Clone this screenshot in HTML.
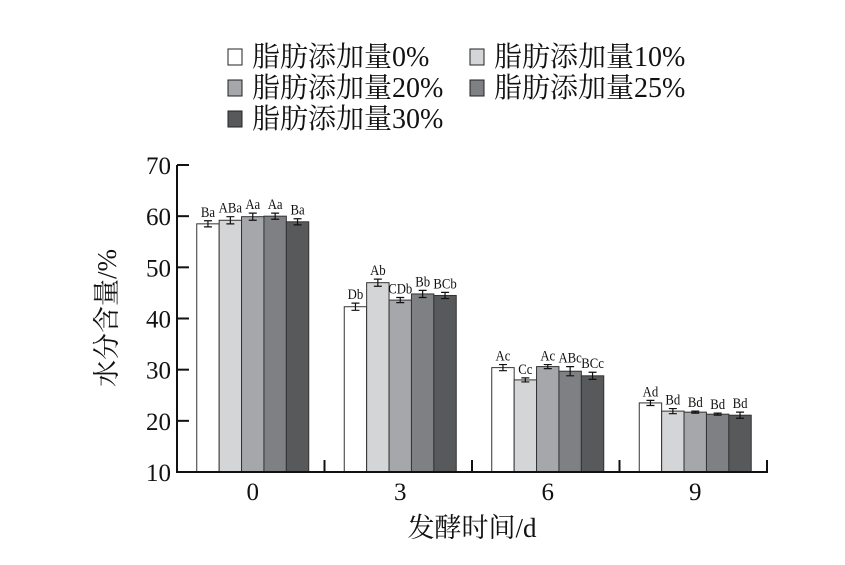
<!DOCTYPE html>
<html><head><meta charset="utf-8"><style>
body{margin:0;background:#fff}
svg text{font-family:"Liberation Serif","Noto Serif CJK SC",serif;fill:#111}
</style></head><body>
<svg width="845" height="560" viewBox="0 0 845 560" xmlns="http://www.w3.org/2000/svg">
<g id="legend"></g>
<g id="plot"></g>
<text x="116" y="318" font-size="27" text-anchor="middle" transform="rotate(-90 116 318)">水分含量/%</text>
<text x="472" y="537" font-size="27" text-anchor="middle">发酵时间/d</text>
</svg>
<script>
const categories=["0","3","6","9"];
const seriesNames=["脂肪添加量0%","脂肪添加量10%","脂肪添加量20%","脂肪添加量25%","脂肪添加量30%"];
const s0=[58.5,42.3,30.4,23.5];
const s10=[59.2,47.0,28.0,21.9];
const s20=[59.9,43.6,30.6,21.7];
const s25=[60.0,44.8,29.7,21.3];
const s30=[58.9,44.5,28.8,21.1];
const errs0=[0.6,0.7,0.6,0.5];
const errs10=[0.7,0.7,0.4,0.5];
const errs20=[0.7,0.5,0.4,0.2];
const errs25=[0.6,0.7,0.9,0.2];
const errs30=[0.6,0.6,0.7,0.6];
const sigLabels=[["Ba","Db","Ac","Ad"],["ABa","Ab","Cc","Bd"],["Aa","CDb","Ac","Bd"],["Aa","Bb","ABc","Bd"],["Ba","BCb","BCc","Bd"]];
const yTicks=[10,20,30,40,50,60,70];
const colors=["#ffffff","#d4d5d7","#a6a7aa","#7f8083","#58595b"];
const series=[s0,s10,s20,s25,s30];
const errs=[errs0,errs10,errs20,errs25,errs30];
const NS="http://www.w3.org/2000/svg";
const X0=177,X1=767,Y0=472,Y1=165,YMIN=10,YMAX=70;
const y=v=>Y0-(v-YMIN)/(YMAX-YMIN)*(Y0-Y1);
const catW=(X1-X0)/categories.length;
const bw=22.4;
const x=(ci,si)=>X0+catW*ci+catW/2+2+(si-2.5)*bw;
function mk(t,a,p){const e=document.createElementNS(NS,t);for(const k in a)e.setAttribute(k,a[k]);p.appendChild(e);return e;}
const plot=document.getElementById('plot');
series.forEach((s,si)=>{s.forEach((v,ci)=>{
 const r=mk('rect',{x:x(ci,si),y:y(v),width:bw,height:Y0-y(v),fill:colors[si],stroke:"#333","stroke-width":1},plot);
 
 
 const cx=x(ci,si)+bw/2,e=errs[si][ci];
 const eb=mk('path',{d:`M${cx-4},${y(v+e)}H${cx+4}M${cx},${y(v+e)}V${y(v-e)}M${cx-4},${y(v-e)}H${cx+4}`,stroke:"#111","stroke-width":1.2,fill:"none"},plot);
 
 
 const t=mk('text',{x:0,y:0,"font-size":15,"text-anchor":"middle",transform:`translate(${cx},${y(v+e)-4}) scale(0.85,1)`},plot);
 t.textContent=sigLabels[si][ci];
 
 
});});
const ax=mk('path',{d:`M${X0},${Y1}V${Y0}H${X1+1}`,stroke:"#111","stroke-width":2,fill:"none"},plot);


yTicks.forEach(v=>{
 const tk=mk('path',{d:`M${X0},${y(v)}H${X0+12}`,stroke:"#111","stroke-width":2},plot);
 
 
 const t=mk('text',{x:X0-6,y:y(v)+9,"font-size":25,"text-anchor":"end"},plot);
 t.textContent=v;
 
 
});
categories.forEach((c,ci)=>{
 const tx=X0+catW*(ci+1);
 const tk=mk('path',{d:`M${tx},${Y0}V${Y0-12}`,stroke:"#111","stroke-width":2},plot);
 
 
 const t=mk('text',{x:X0+catW*ci+catW/2+2,y:Y0+28,"font-size":25,"text-anchor":"middle"},plot);
 t.textContent=c;
 
 
});
const lg=document.getElementById('legend');
const lpos=[[228,66],[470,66],[228,97],[470,97],[228,128]];
seriesNames.forEach((n,i)=>{
 const [lx,ly]=lpos[i];
 const g=mk('g',{},lg);
 
 
 mk('rect',{x:lx,y:ly-17,width:14,height:16,fill:colors[i],stroke:"#222","stroke-width":1},g);
 const t=mk('text',{x:lx+24,y:ly,"font-size":28},g);
 t.textContent=n;
});
</script>
</body></html>
